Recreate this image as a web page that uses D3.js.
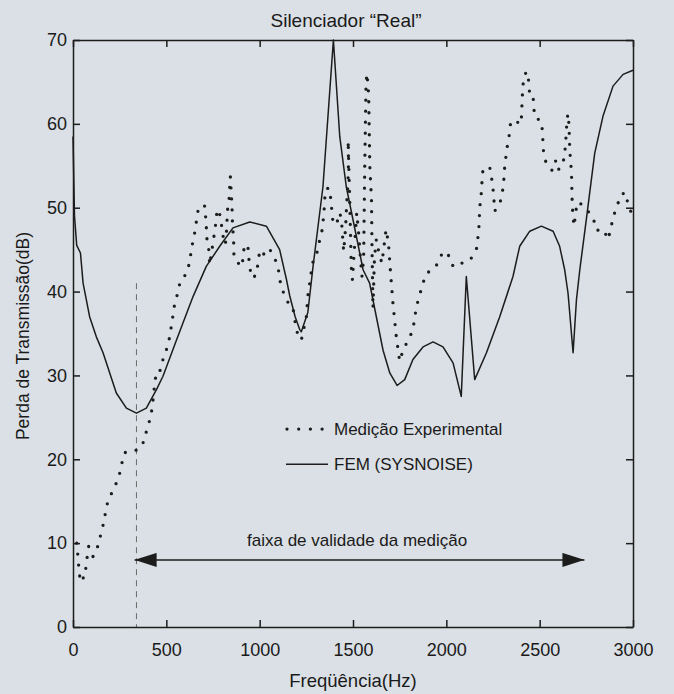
<!DOCTYPE html>
<html><head><meta charset="utf-8">
<script src="https://cdn.jsdelivr.net/npm/d3@7"></script>
<style>
html,body{margin:0;padding:0;background:#dae0e5;}
svg{display:block;}
text{font-family:"Liberation Sans",Arial,sans-serif;fill:#1a1a1a;}
</style></head>
<body><div id="chart"></div>
<script>
const title = "Silenciador \u201CReal\u201D";
const xLabel = "Freqüência(Hz)";
const yLabel = "Perda de Transmissão(dB)";
const xTicks = [0,500,1000,1500,2000,2500,3000];
const yTicks = [0,10,20,30,40,50,60,70];
const seriesNames = ["Medição Experimental","FEM (SYSNOISE)"];
const validityLabel = "faixa de validade da medição";
const validityRange = [330, 2740];
const dashedFreq = 340;

// FEM (SYSNOISE) curve: [frequency Hz, TL dB]
const femFreq = [0,8,20,40,54,89,125,161,232,286,340,393,447,482,554,643,714,786,857,947,1036,1107,1143,1161,1190,1214,1223,1258,1286,1339,1395,1429,1464,1518,1554,1589,1625,1661,1697,1736,1777,1821,1875,1929,1982,2036,2080,2107,2152,2215,2286,2357,2393,2447,2509,2572,2607,2634,2652,2679,2697,2715,2750,2795,2839,2893,2947,3000];
const femTL   = [58.5,49,45.5,44.6,41,37,34.6,32.7,27.9,26.1,25.5,26.1,28.3,29.9,34.2,39.4,43,45.4,47.6,48.3,47.8,45,41.5,39.5,37,35.5,35.2,37.5,43,52.5,70,58.5,52.5,46.6,42.6,41,37,33,30.3,28.8,29.5,31.9,33.4,34,33.4,31.5,27.5,41.8,29.5,32.7,37,41.8,45.4,47.2,47.8,47.2,45.4,42.6,39.8,32.7,39,42.6,48.6,56.5,60.9,64.5,65.9,66.4];

// Medição Experimental: [frequency Hz, TL dB]
const expFreq = [20,25,30,36,40,54,57,68,75,84,107,125,140,157,170,179,197,223,246,259,277,313,354,384,396,415,425,438,447,464,482,504,518,527,536,545,562,575,607,625,634,657,664,675,706,711,715,718,729,732,750,759,768,771,786,795,804,816,822,825,827,836,839,843,852,854,861,862,875,889,907,911,920,937,941,947,961,982,991,1000,1015,1050,1080,1098,1107,1116,1139,1161,1179,1188,1200,1223,1250,1259,1268,1277,1286,1304,1312,1331,1339,1345,1348,1357,1375,1384,1393,1411,1429,1438,1446,1450,1460,1466,1473,1476,1474,1482,1491,1497,1510,1520,1530,1540,1548,1557,1563,1570,1575,1584,1590,1599,1602,1607,1615,1625,1640,1655,1677,1690,1700,1714,1732,1750,1768,1795,1821,1830,1840,1857,1875,1893,1929,1955,1982,2018,2036,2063,2098,2134,2161,2170,2175,2179,2188,2191,2196,2232,2241,2250,2255,2259,2277,2286,2300,2307,2313,2325,2336,2343,2357,2375,2389,2402,2407,2411,2423,2437,2441,2446,2464,2468,2473,2496,2509,2515,2518,2522,2536,2568,2586,2598,2622,2634,2639,2643,2646,2652,2657,2661,2665,2670,2672,2673,2675,2679,2684,2700,2714,2759,2789,2804,2843,2866,2880,2893,2914,2938,2961,2973,2991];
const expTL   = [10,8.8,7.4,6,5.4,5.6,6.8,6.9,8.2,9.6,8.4,9,10.3,11.7,13.1,14.4,15.5,16.7,17.9,19.3,20.8,20.9,21.2,22.3,23.7,24.9,26.3,29.1,30.4,30.4,31.9,33.3,34.6,35.9,37.2,38.6,39.9,41.3,42.1,43.5,45,47.6,49,50.2,50.2,48.8,47.4,46.1,44.8,43.2,45.8,47.2,48.6,49.8,49.2,48,46.6,45.6,47,48.4,49.6,51,52.4,53.7,50,48.4,45.7,44.4,44.2,43.2,43,44.4,45.6,45.4,44.2,42.8,41.6,42,43.4,44.8,44.3,45.2,44,43,41.6,40.4,39.4,38.2,38,36.6,35.2,34.2,37,39.6,41,42.4,43.6,44.2,45.4,46.8,48.2,49.6,51,52.3,52.3,50.3,48.2,48,49.4,48.6,46,44.8,47.5,50.4,53,55.5,58,51.3,42.8,41.4,46,49.4,47,44,41.8,44,55,64.9,66,63.5,55,51,45,38,44,46.2,44.5,43.4,47.4,45.8,42.6,38.6,34.6,31.7,33,34.2,35.4,36.8,38.2,39.6,41,42.2,42.6,43.4,44.8,44.2,43,43.4,43.4,44,45,46.6,47.8,50,51.9,53.1,54.5,54.9,53.8,52.3,51,49.6,50.2,50.4,51.8,53,55,57.1,58.5,59.9,60.3,60.5,59.9,60.5,63.3,64.7,66,66.2,65,63.6,63.5,62.2,60.8,60.5,60.3,59.1,57.6,56.2,55.3,54.4,55.6,54.5,55,56.4,57.7,59.1,60.5,61.2,59.9,57.1,55.7,54.4,53,51.6,50.2,48.9,47.8,50.6,50.6,49.6,48.6,47.3,47.4,46.2,47.4,48.8,50.2,51.6,51.8,50.4,49.4];

const W = 674, H = 694;
const margin = {top:40, right:41, bottom:67, left:73};
const ink = "#1c1c1c";

const svg = d3.select("#chart").append("svg").attr("width",W).attr("height",H);

const x = d3.scaleLinear().domain([0,3000]).range([margin.left, W-margin.right]);
const y = d3.scaleLinear().domain([0,70]).range([H-margin.bottom, margin.top]);

// dashed vertical line (start of validity)
svg.append("line")
  .attr("x1",x(dashedFreq)).attr("x2",x(dashedFreq))
  .attr("y1",y(41)).attr("y2",y(0))
  .attr("stroke","#6a6a6a").attr("stroke-width",1).attr("stroke-dasharray","6 5");

// axes (ticks inside)
const tickLen = 7;
const axB = svg.append("g").attr("transform",`translate(0,${y(0)})`)
  .call(d3.axisBottom(x).tickValues(xTicks).tickSizeInner(-tickLen).tickSizeOuter(0).tickPadding(16).tickFormat(d3.format("d")));
const axT = svg.append("g").attr("transform",`translate(0,${y(70)})`)
  .call(d3.axisTop(x).tickValues(xTicks).tickSizeInner(-tickLen).tickSizeOuter(0).tickFormat(""));
const axL = svg.append("g").attr("transform",`translate(${x(0)},0)`)
  .call(d3.axisLeft(y).tickValues(yTicks).tickSizeInner(-tickLen).tickSizeOuter(0).tickPadding(6).tickFormat(d3.format("d")));
const axR = svg.append("g").attr("transform",`translate(${x(3000)},0)`)
  .call(d3.axisRight(y).tickValues(yTicks).tickSizeInner(-tickLen).tickSizeOuter(0).tickFormat(""));
[axB,axT,axL,axR].forEach(g=>{
  g.selectAll("path").attr("stroke",ink).attr("stroke-width",1.5);
  g.selectAll("line").attr("stroke",ink).attr("stroke-width",1.5);
  g.selectAll("text").attr("font-size",18).attr("fill",ink).style("font-family","Liberation Sans, Arial, sans-serif");
});

// series
const line = d3.line().x(d=>x(d[0])).y(d=>y(d[1]));
const femData = femFreq.map((f,i)=>[f,femTL[i]]);
const expData = expFreq.map((f,i)=>[f,expTL[i]]);

svg.append("path").datum(femData).attr("d",line)
  .attr("fill","none").attr("stroke",ink).attr("stroke-width",1.5).attr("stroke-linejoin","round");
svg.append("path").datum(expData).attr("d",line)
  .attr("fill","none").attr("stroke",ink).attr("stroke-width",3.3)
  .attr("stroke-linecap","round").attr("stroke-dasharray","0 11");

// validity arrow
const ay = y(8);
const defs = svg.append("defs");
defs.append("marker").attr("id","ah").attr("viewBox","0 0 22 14").attr("refX",22).attr("refY",7)
  .attr("markerWidth",22).attr("markerHeight",14).attr("markerUnits","userSpaceOnUse").attr("orient","auto-start-reverse")
  .append("path").attr("d","M0,0 L22,7 L0,14 Z").attr("fill",ink);
svg.append("line").attr("x1",x(validityRange[0])).attr("x2",x(validityRange[1]))
  .attr("y1",ay).attr("y2",ay).attr("stroke",ink).attr("stroke-width",1.5)
  .attr("marker-start","url(#ah)").attr("marker-end","url(#ah)");
svg.append("text").attr("x",247).attr("y",y(9.6)).attr("font-size",17).text(validityLabel);

// legend
const lgx = 286, lgy1 = y(23.6), lgy2 = y(19.4);
svg.append("line").attr("x1",lgx+1).attr("x2",lgx+37).attr("y1",lgy1).attr("y2",lgy1)
  .attr("stroke",ink).attr("stroke-width",3.3).attr("stroke-linecap","round").attr("stroke-dasharray","0 11.7");
svg.append("text").attr("x",334).attr("y",lgy1+6).attr("font-size",17).text(seriesNames[0]);
svg.append("line").attr("x1",lgx).attr("x2",lgx+42).attr("y1",lgy2).attr("y2",lgy2)
  .attr("stroke",ink).attr("stroke-width",1.5);
svg.append("text").attr("x",334).attr("y",lgy2+6).attr("font-size",17).text(seriesNames[1]);

// titles
svg.append("text").attr("x",346).attr("y",27).attr("text-anchor","middle").attr("font-size",19).text(title);
svg.append("text").attr("x",353).attr("y",687).attr("text-anchor","middle").attr("font-size",18.5).text(xLabel);
svg.append("text").attr("transform",`translate(29,336) rotate(-90)`).attr("text-anchor","middle").attr("font-size",17.5).text(yLabel);
</script></body></html>
